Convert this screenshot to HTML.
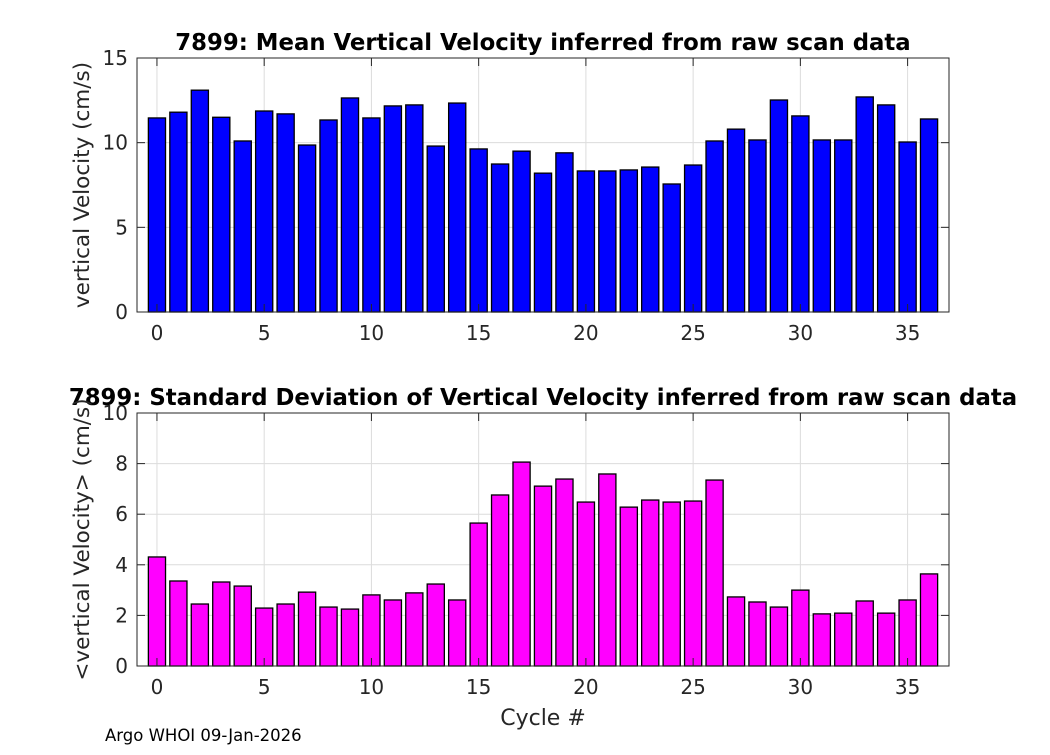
<!DOCTYPE html>
<html><head><meta charset="utf-8"><style>
body{margin:0;background:#fff;}
svg text{font-family:"DejaVu Sans","Liberation Sans",sans-serif;}
</style></head><body>
<svg id="chart" width="1050" height="750" xmlns="http://www.w3.org/2000/svg"></svg>
<script>
const cycles=[0,1,2,3,4,5,6,7,8,9,10,11,12,13,14,15,16,17,18,19,20,21,22,23,24,25,26,27,28,29,30,31,32,33,34,35,36];
const meanVel=[11.46,11.8,13.1,11.5,10.1,11.87,11.7,9.86,11.34,12.64,11.46,12.17,12.23,9.8,12.34,9.63,8.74,9.5,8.2,9.4,8.33,8.33,8.39,8.56,7.56,8.68,10.1,10.8,10.16,12.52,11.58,10.16,10.16,12.7,12.23,10.04,11.4];
const stdVel=[4.31,3.36,2.45,3.32,3.16,2.29,2.45,2.92,2.33,2.25,2.81,2.61,2.89,3.24,2.61,5.65,6.76,8.06,7.11,7.39,6.48,7.59,6.28,6.56,6.48,6.52,7.35,2.73,2.53,2.33,3.0,2.06,2.09,2.57,2.09,2.61,3.64];
const xTicks=[0,5,10,15,20,25,30,35];
const yTicksTop=[0,5,10,15];
const yTicksBot=[0,2,4,6,8,10];
const svg=document.getElementById('chart');
const NS='http://www.w3.org/2000/svg';
function mk(tag,attrs,parent){const e=document.createElementNS(NS,tag);for(const k in attrs)e.setAttribute(k,attrs[k]);(parent||svg).appendChild(e);return e;}
function panel(opt){
  const L=137,R=949,T=opt.top,B=opt.bottom,x0=-0.93,x1=36.93;
  const g=mk('g',{});
  
  
  const xs=v=>L+(v-x0)/(x1-x0)*(R-L);
  const ys=v=>B-(v/opt.ymax)*(B-T);
  mk('rect',{x:L,y:T,width:R-L,height:B-T,fill:'#fff'},g);
  xTicks.forEach(t=>{const l=mk('line',{x1:xs(t),x2:xs(t),y1:T,y2:B,stroke:'#dcdcdc','stroke-width':1},g);});
  opt.yTicks.forEach(t=>{const l=mk('line',{x1:L,x2:R,y1:ys(t),y2:ys(t),stroke:'#dcdcdc','stroke-width':1},g);});
  const bw=0.8*(xs(1)-xs(0));
  cycles.forEach((c,i)=>{
    const v=opt.data[i];
    const r=mk('rect',{x:xs(c)-bw/2,y:ys(v),width:bw,height:ys(0)-ys(v),fill:opt.color,stroke:'#000','stroke-width':1.3},g);
    
    
  });
  const box=mk('rect',{x:L,y:T,width:R-L,height:B-T,fill:'none',stroke:'#262626','stroke-width':1},g);
  
  xTicks.forEach(t=>{
    mk('line',{x1:xs(t),x2:xs(t),y1:B,y2:B-8,stroke:'#262626'},g);
    mk('line',{x1:xs(t),x2:xs(t),y1:T,y2:T+8,stroke:'#262626'},g);
    const tx=mk('text',{x:xs(t),y:B+28,'font-size':20,'text-anchor':'middle',fill:'#262626'},g);tx.textContent=t;
    
  });
  opt.yTicks.forEach(t=>{
    mk('line',{x1:L,x2:L+8,y1:ys(t),y2:ys(t),stroke:'#262626'},g);
    mk('line',{x1:R,x2:R-8,y1:ys(t),y2:ys(t),stroke:'#262626'},g);
    const tx=mk('text',{x:L-9,y:ys(t)+7,'font-size':20,'text-anchor':'end',fill:'#262626'},g);tx.textContent=t;
    
  });
  const ti=mk('text',{x:(L+R)/2,y:T-8,'font-size':22.8,'font-weight':'bold','text-anchor':'middle',fill:'#000'},g);ti.textContent=opt.title;
  
  const yl=mk('text',{x:0,y:0,'font-size':21.5,'text-anchor':'middle',fill:'#262626',transform:`translate(${opt.ylabX},${(T+B)/2}) rotate(-90)`},g);yl.textContent=opt.ylabel;
  
}
panel({name:'mean-velocity-panel',top:58,bottom:312,ymax:15,yTicks:yTicksTop,data:meanVel,color:'#0000ff',title:'7899: Mean Vertical Velocity inferred from raw scan data',ylabel:'vertical Velocity (cm/s)',ylabX:89});
panel({name:'std-velocity-panel',top:413,bottom:666,ymax:10,yTicks:yTicksBot,data:stdVel,color:'#ff00ff',title:'7899: Standard Deviation of Vertical Velocity inferred from raw scan data',ylabel:'<vertical Velocity> (cm/s)',ylabX:89});
const xl=mk('text',{x:543,y:725,'font-size':22,'text-anchor':'middle',fill:'#262626'});xl.textContent='Cycle #';


const ft=mk('text',{x:105,y:741,'font-size':16.5,fill:'#000'});ft.textContent='Argo WHOI 09-Jan-2026';


</script>
</body></html>
